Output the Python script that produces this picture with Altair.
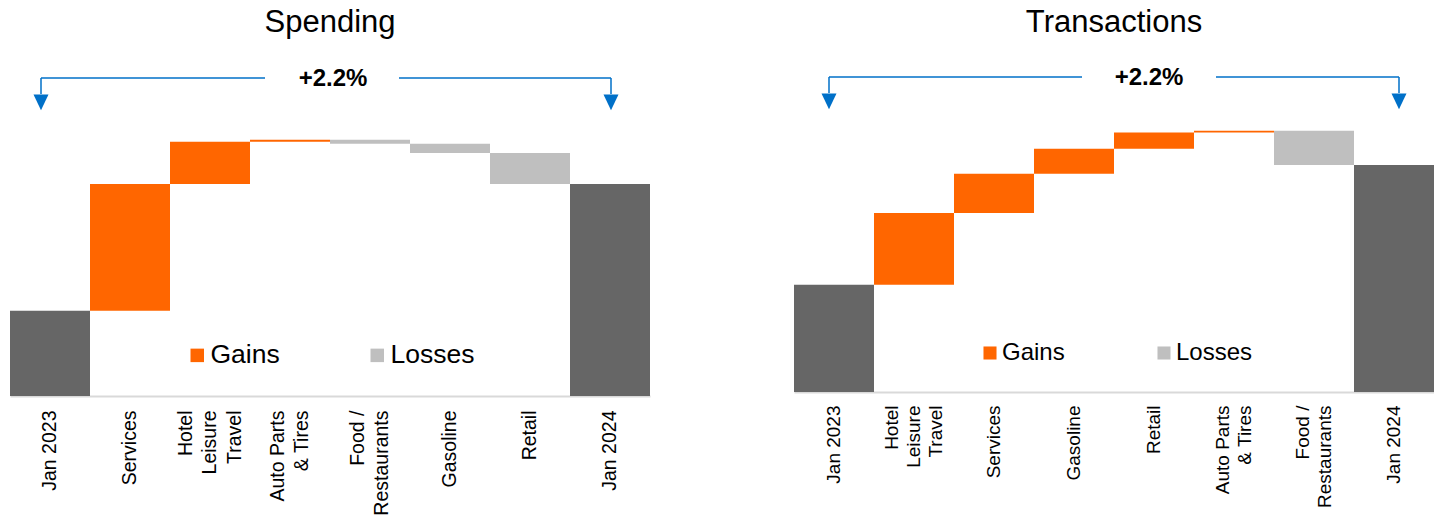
import altair as alt
import pandas as pd

# ---------------- data ----------------
spend_cats = ["Jan 2023", "Services", "Hotel\nLeisure\nTravel", "Auto Parts\n& Tires",
              "Food /\nRestaurants", "Gasoline", "Retail", "Jan 2024"]
spend_start = 100.0
spend_changes = [2.20, 0.73, 0.035, -0.07, -0.16, -0.535]

trans_cats = ["Jan 2023", "Hotel\nLeisure\nTravel", "Services", "Gasoline", "Retail",
              "Auto Parts\n& Tires", "Food /\nRestaurants", "Jan 2024"]
trans_start = 100.0
trans_changes = [1.32, 0.72, 0.46, 0.30, 0.03, -0.63]

legend_items = ["Gains", "Losses"]
kind_domain = ["Gains", "Losses", "Total"]
kind_colors = ["#FF6600", "#BFBFBF", "#666666"]

FONT = "Liberation Sans"
BLUE = "#0070C8"

# Arial advance widths (1/1000 em) used to centre the lines of multi-line labels
AW = {" ": 278, "\u00a0": 278, "/": 278, "&": 667, "A": 667, "F": 611, "H": 722, "L": 556,
      "P": 667, "R": 722, "T": 611, "a": 556, "d": 556, "e": 556, "i": 222, "l": 222,
      "n": 556, "o": 556, "r": 333, "s": 500, "t": 278, "u": 556, "v": 500}


def axis_label(text):
    lines = text.split("\n")
    ws = [sum(AW.get(c, 556) for c in ln) for ln in lines]
    m = max(ws)
    return "|".join(ln + "\u00a0" * round((m - w) / 2 / 278) for ln, w in zip(lines, ws))


def waterfall_table(cats, start, changes, ymin):
    rows = [dict(cat=axis_label(cats[0]), y0=ymin, y1=start, kind="Total")]
    level = start
    for c, d in zip(cats[1:-1], changes):
        rows.append(dict(cat=axis_label(c), y0=level, y1=level + d,
                         kind="Gains" if d >= 0 else "Losses"))
        level += d
    rows.append(dict(cat=axis_label(cats[-1]), y0=ymin, y1=level, kind="Total"))
    return pd.DataFrame(rows), level


def one():
    return pd.DataFrame({"k": [0]})


def panel(title, cats, start, changes, ydom, height, lab_size, lab_lh, lab_pad,
          leg_x, leg_y, leg_size, leg_font, leg_off, leg_colpad,
          line_y, arr_l, arr_r, gap_l, gap_r, txt_x):
    df, end = waterfall_table(cats, start, changes, ydom[0])
    order = list(df["cat"])
    pct = (end - start) / start * 100

    # centre multi-line label blocks on their band
    label_shift = {
        "condition": [
            {"test": "length(split(datum.value, '|')) == 3", "value": -lab_lh},
            {"test": "length(split(datum.value, '|')) == 2", "value": -lab_lh / 2},
        ],
        "value": 0,
    }

    bars = alt.Chart(df).mark_bar(strokeWidth=0, opacity=1).encode(
        x=alt.X("cat:N", sort=order,
                scale=alt.Scale(paddingInner=0, paddingOuter=0),
                axis=alt.Axis(title=None, labelAngle=-90, labelAlign="right",
                              labelBaseline="middle",
                              labelExpr="split(datum.label, '|')",
                              labelFont=FONT, labelFontSize=lab_size,
                              labelLineHeight=lab_lh, labelPadding=lab_pad,
                              labelOffset=label_shift,
                              labelColor="black", labelLimit=400,
                              labelOverlap=False, ticks=False,
                              domainColor="#D9D9D9", domainWidth=2, grid=False)),
        y=alt.Y("y0:Q", scale=alt.Scale(domain=ydom, zero=False, nice=False),
                axis=None),
        y2="y1:Q",
        color=alt.Color("kind:N",
                        scale=alt.Scale(domain=kind_domain, range=kind_colors),
                        legend=alt.Legend(title=None, values=legend_items,
                                          orient="none", legendX=leg_x, legendY=leg_y,
                                          direction="horizontal",
                                          symbolType="square", symbolSize=leg_size,
                                          symbolStrokeWidth=0, symbolOpacity=1,
                                          labelFont=FONT, labelFontSize=leg_font,
                                          labelColor="black", labelOffset=leg_off,
                                          columnPadding=leg_colpad, padding=0,
                                          labelLimit=300)),
    )

    seg_l = alt.Chart(one()).mark_rule(color=BLUE, strokeWidth=1.5).encode(
        x=alt.value(arr_l), x2=alt.value(gap_l), y=alt.value(line_y))
    seg_r = alt.Chart(one()).mark_rule(color=BLUE, strokeWidth=1.5).encode(
        x=alt.value(gap_r), x2=alt.value(arr_r), y=alt.value(line_y))
    v_l = alt.Chart(one()).mark_rule(color=BLUE, strokeWidth=1.5).encode(
        x=alt.value(arr_l), y=alt.value(line_y), y2=alt.value(line_y + 16))
    v_r = alt.Chart(one()).mark_rule(color=BLUE, strokeWidth=1.5).encode(
        x=alt.value(arr_r), y=alt.value(line_y), y2=alt.value(line_y + 16))
    head_shape = "M-1,-1L1,-1L0,1.1Z"
    h_l = alt.Chart(one()).mark_point(shape=head_shape, filled=True, color=BLUE,
                                      size=225, opacity=1, strokeWidth=0).encode(
        x=alt.value(arr_l), y=alt.value(line_y + 24))
    h_r = alt.Chart(one()).mark_point(shape=head_shape, filled=True, color=BLUE,
                                      size=225, opacity=1, strokeWidth=0).encode(
        x=alt.value(arr_r), y=alt.value(line_y + 24))
    txt = alt.Chart(pd.DataFrame({"t": [f"+{pct:.1f}%"]})).mark_text(
        font=FONT, fontSize=24, fontWeight="bold", color="black",
        align="center", baseline="middle").encode(
        text="t:N", x=alt.value(txt_x), y=alt.value(line_y + 1))

    return alt.layer(bars, seg_l, seg_r, v_l, v_r, h_l, h_r, txt).properties(
        width=640, height=height,
        title=alt.TitleParams(title, font=FONT, fontSize=31, fontWeight="normal",
                              color="black", anchor="middle", offset=21))


spending = panel("Spending", spend_cats, spend_start, spend_changes,
                 ydom=[98.52, 104.35], height=336, lab_size=19.5, lab_lh=24.5, lab_pad=14,
                 leg_x=174, leg_y=282, leg_size=182, leg_font=26.5, leg_off=0,
                 leg_colpad=84,
                 line_y=18, arr_l=31, arr_r=601, gap_l=255, gap_r=389, txt_x=323)

transactions = panel("Transactions", trans_cats, trans_start, trans_changes,
                     ydom=[98.03, 104.13], height=332, lab_size=19, lab_lh=22,
                     lab_pad=13,
                     leg_x=184, leg_y=281, leg_size=170, leg_font=24, leg_off=0,
                     leg_colpad=87,
                     line_y=17, arr_l=35, arr_r=605, gap_l=288, gap_r=422, txt_x=355)

chart = alt.hconcat(spending, transactions, spacing=144).resolve_scale(
    color="independent", y="independent", x="independent"
).properties(
    padding={"left": 10, "top": 7, "right": 0, "bottom": 0},
    background="white",
).configure_view(stroke=None)

chart.save("out.html", embed_options={"renderer": "svg", "actions": False})
